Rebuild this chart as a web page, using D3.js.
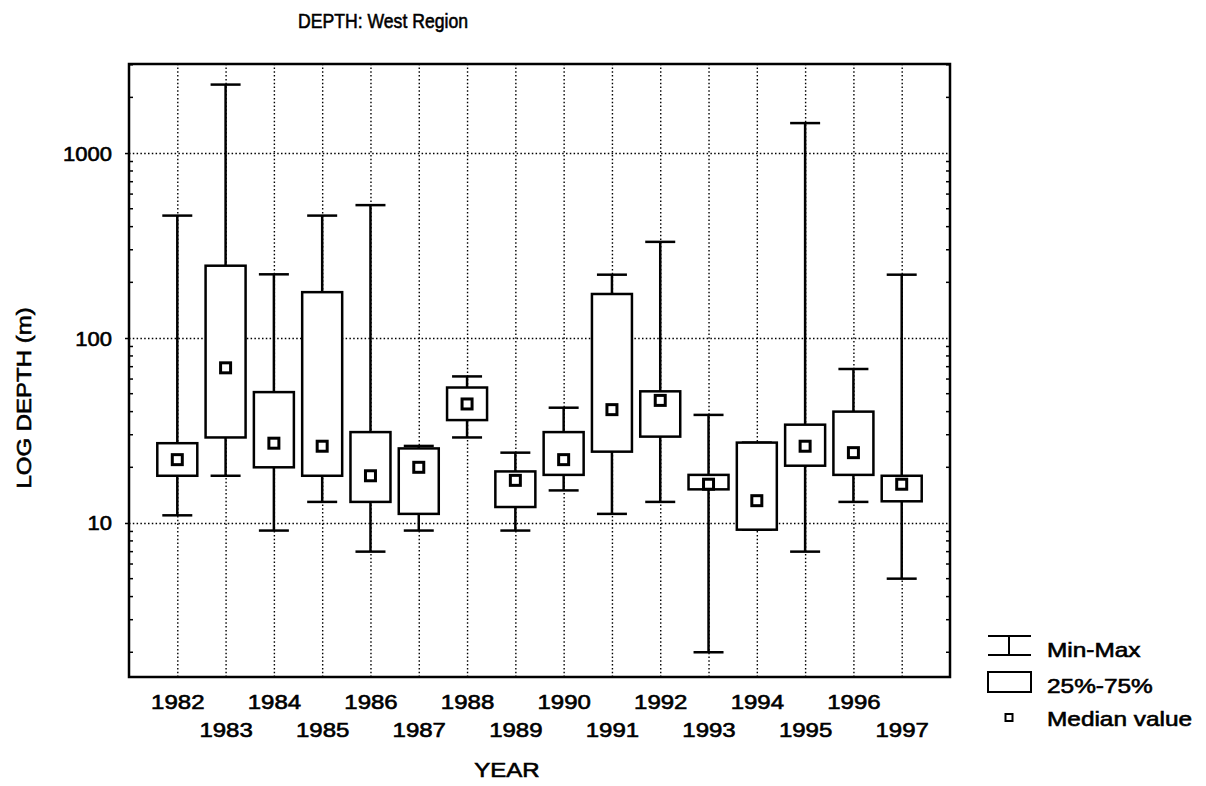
<!DOCTYPE html>
<html>
<head>
<meta charset="utf-8">
<script src="https://cdnjs.cloudflare.com/ajax/libs/d3/7.8.5/d3.min.js"></script>
<style>
body { margin: 0; background: #fff; }
svg text { font-family: "Liberation Sans", Arial, sans-serif; fill: #000; stroke: #000; stroke-width: 0.6px; }
.grid line { stroke: #000; stroke-width: 1.4; stroke-dasharray: 1.5,2.3; }
.grid path { display: none; }
</style>
</head>
<body>
<svg id="chart" width="1206" height="786"></svg>
<script>
/* values (log scale) */
var YEARS = [1982, 1983, 1984, 1985, 1986, 1987, 1988, 1989, 1990, 1991, 1992, 1993, 1994, 1995, 1996, 1997];
var MIN_VALUES = [11, 18, 9.1, 13, 7, 9.1, 29, 9.1, 15, 11.2, 13, 2, 9.2, 7, 13, 5];
var Q1_VALUES = [18, 29, 20, 18, 13, 11.2, 36, 12.2, 18.2, 24.3, 29.3, 15.2, 9.2, 20.4, 18.2, 13.1];
var MEDIAN_VALUES = [22, 69, 27, 26, 18, 20, 44, 17, 22, 41, 46, 16.2, 13.2, 26, 24, 16.2];
var Q3_VALUES = [27, 246, 51, 177, 31, 25.3, 54, 19, 31, 173, 51.5, 18.2, 27.2, 34, 40, 18];
var MAX_VALUES = [459, 2345, 221, 459, 523, 26.1, 62, 24, 42, 220, 331, 38.4, 27.2, 1452, 68, 220];

var Y_TICKS = [10, 100, 1000];
var LEGEND_LABELS = ["Min-Max", "25%-75%", "Median value"];

function init() {
    var svg = d3.select("#chart");
    var margin = {top: 64, right: 256, bottom: 109, left: 129};
    var width = +svg.attr("width") - margin.left - margin.right;
    var height = +svg.attr("height") - margin.top - margin.bottom;
    var g = svg.append("g").attr("transform", "translate(" + margin.left + "," + margin.top + ")");

    var x = d3.scaleLinear().domain([1981, 1998]).range([0, width]);
    var y = d3.scaleLog().domain([1.47, 3030]).range([height, 0]);

    var boxes = YEARS.map(function (year, i) {
        return {year: year, min: MIN_VALUES[i], q1: Q1_VALUES[i], median: MEDIAN_VALUES[i], q3: Q3_VALUES[i], max: MAX_VALUES[i]};
    });

    /* dotted grid */
    g.append("g")
        .attr("class", "grid")
        .attr("transform", "translate(0," + height + ")")
        .call(d3.axisBottom(x).tickValues(YEARS).tickSize(-height).tickFormat(""));
    g.append("g")
        .attr("class", "grid")
        .call(d3.axisLeft(y).tickValues(Y_TICKS).tickSize(-width).tickFormat(""));

    /* minor ticks on both sides */
    var minorTicks = [];
    [1, 10, 100, 1000].forEach(function (decade) {
        for (var k = 2; k <= 9; k++) {
            var v = k * decade;
            if (v > y.domain()[0] && v < y.domain()[1] && Y_TICKS.indexOf(v) < 0) minorTicks.push(v);
        }
    });
    g.append("g").selectAll("line").data(minorTicks).enter().append("line")
        .attr("x1", 0).attr("x2", 4)
        .attr("y1", function (d) { return y(d); }).attr("y2", function (d) { return y(d); })
        .attr("stroke", "#000").attr("stroke-width", 1.5);
    g.append("g").selectAll("line").data(minorTicks).enter().append("line")
        .attr("x1", width).attr("x2", width - 4)
        .attr("y1", function (d) { return y(d); }).attr("y2", function (d) { return y(d); })
        .attr("stroke", "#000").attr("stroke-width", 1.5);

    /* y axis labels */
    var yAxis = g.append("g")
        .call(d3.axisLeft(y).tickValues(Y_TICKS).tickFormat(d3.format("d")).tickSize(4));
    yAxis.select(".domain").remove();
    yAxis.selectAll(".tick line").attr("stroke-width", 1.5);
    yAxis.selectAll("text")
        .attr("font-size", 20)
        .attr("x", -17 / 1.1)
        .attr("dy", "0.35em")
        .attr("transform", "scale(1.1,1)");

    /* x axis labels, alternating rows */
    var xAxis = g.append("g")
        .attr("transform", "translate(0," + height + ")")
        .call(d3.axisBottom(x).tickValues(YEARS).tickFormat(d3.format("d")).tickSize(0));
    xAxis.select(".domain").remove();
    xAxis.selectAll("text")
        .attr("font-size", 20)
        .attr("dy", 0)
        .attr("y", function (d, i) { return i % 2 === 0 ? 32 : 60; })
        .attr("transform", "scale(1.2,1)");

    /* whiskers */
    var capHalf = 15, boxHalf = 20;
    var box = g.append("g").selectAll(".box").data(boxes).enter().append("g").classed("box", true);

    box.append("line")
        .attr("x1", function (d) { return x(d.year); }).attr("x2", function (d) { return x(d.year); })
        .attr("y1", function (d) { return y(d.min); }).attr("y2", function (d) { return y(d.max); })
        .attr("stroke", "#000").attr("stroke-width", 2.5);
    ["min", "max"].forEach(function (key) {
        box.append("line")
            .attr("x1", function (d) { return x(d.year) - capHalf; }).attr("x2", function (d) { return x(d.year) + capHalf; })
            .attr("y1", function (d) { return y(d[key]); }).attr("y2", function (d) { return y(d[key]); })
            .attr("stroke", "#000").attr("stroke-width", 2.5);
    });

    /* 25%-75% boxes */
    box.append("rect")
        .attr("x", function (d) { return x(d.year) - boxHalf; })
        .attr("width", boxHalf * 2)
        .attr("y", function (d) { return y(d.q3); })
        .attr("height", function (d) { return y(d.q1) - y(d.q3); })
        .attr("fill", "#fff").attr("stroke", "#000").attr("stroke-width", 2.5);

    /* medians */
    box.append("rect")
        .attr("x", function (d) { return x(d.year) - 5; })
        .attr("y", function (d) { return y(d.median) - 5; })
        .attr("width", 10).attr("height", 10)
        .attr("fill", "#fff").attr("stroke", "#000").attr("stroke-width", 3);

    /* frame */
    g.append("rect")
        .attr("width", width).attr("height", height)
        .attr("fill", "none").attr("stroke", "#000").attr("stroke-width", 2.5);

    /* titles */
    svg.append("g").attr("transform", "translate(383,28)")
        .append("text").attr("text-anchor", "middle").attr("font-size", 21)
        .attr("transform", "scale(0.84,1)").text("DEPTH: West Region");
    svg.append("g").attr("transform", "translate(507,777)")
        .append("text").attr("text-anchor", "middle").attr("font-size", 20)
        .attr("transform", "scale(1.2,1)").text("YEAR");
    svg.append("g").attr("transform", "translate(31,398) rotate(-90)")
        .append("text").attr("text-anchor", "middle").attr("font-size", 20)
        .attr("transform", "scale(1.2,1)").text("LOG DEPTH (m)");

    /* legend */
    var legend = svg.append("g").attr("transform", "translate(1009,0)");
    legend.append("line").attr("x1", 0).attr("x2", 0).attr("y1", 636).attr("y2", 655)
        .attr("stroke", "#000").attr("stroke-width", 2);
    [636, 655].forEach(function (ly) {
        legend.append("line").attr("x1", -21).attr("x2", 22).attr("y1", ly).attr("y2", ly)
            .attr("stroke", "#000").attr("stroke-width", 2);
    });
    legend.append("rect").attr("x", -21).attr("y", 672).attr("width", 43).attr("height", 20)
        .attr("fill", "#fff").attr("stroke", "#000").attr("stroke-width", 2);
    legend.append("rect").attr("x", -3.5).attr("y", 714).attr("width", 7).attr("height", 7)
        .attr("fill", "#fff").attr("stroke", "#000").attr("stroke-width", 2);
    [657, 693, 726].forEach(function (ly, i) {
        legend.append("g").attr("transform", "translate(38," + ly + ")")
            .append("text").attr("font-size", 20).attr("transform", "scale(1.22,1)")
            .text(LEGEND_LABELS[i]);
    });
}

init();
</script>
</body>
</html>
